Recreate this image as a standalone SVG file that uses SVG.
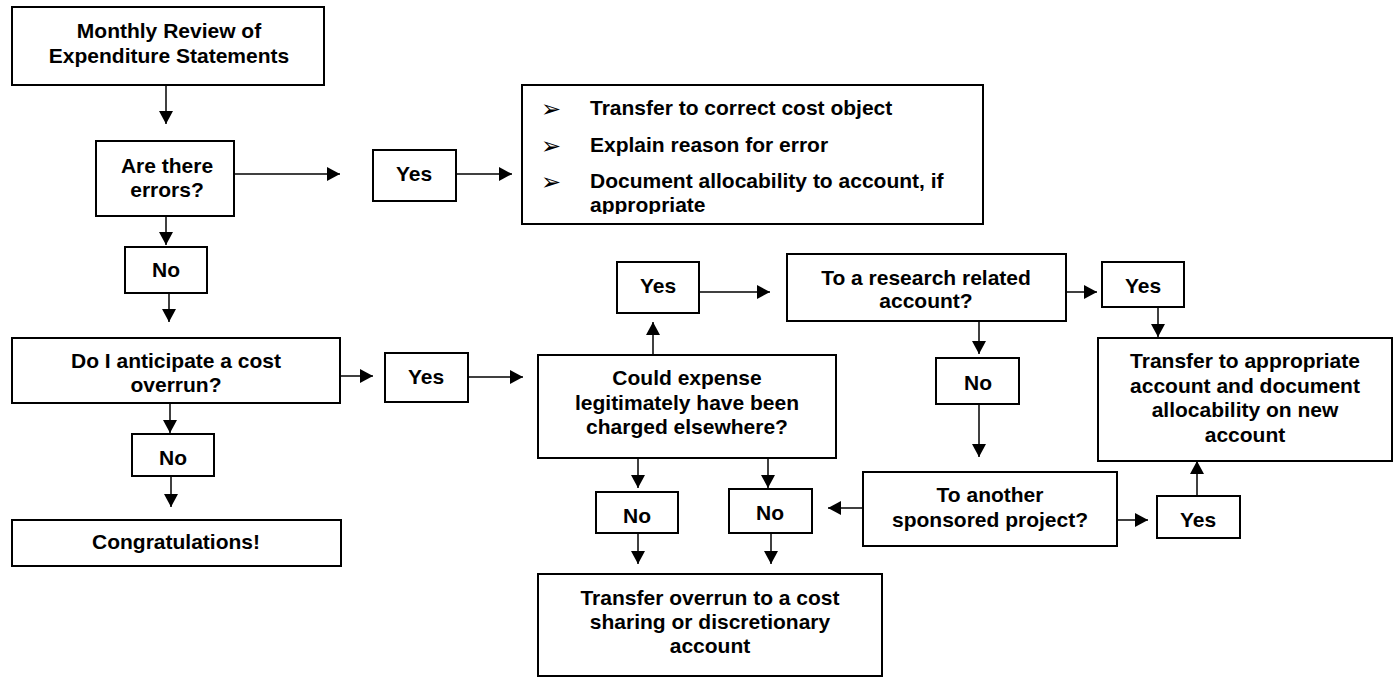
<svg xmlns="http://www.w3.org/2000/svg" width="1395" height="677" viewBox="0 0 1395 677">
<style>
  .box{fill:#fff;stroke:#000;stroke-width:2}
  .t{font-family:"Liberation Sans",Arial,sans-serif;font-weight:bold;font-size:21px;fill:#000;text-anchor:middle}
  .tl{font-family:"Liberation Sans",Arial,sans-serif;font-weight:bold;font-size:21px;fill:#000}
  .bul{font-family:"DejaVu Sans",sans-serif;font-size:24px;fill:#000}
  .c{fill:none;stroke:#000;stroke-width:1.5;marker-end:url(#ah)}
</style>
<defs>
  <marker id="ah" markerUnits="userSpaceOnUse" markerWidth="13" markerHeight="14" refX="13" refY="7" orient="auto">
    <path d="M0,0 L13,7 L0,14 z" fill="#000"/>
  </marker>
  <clipPath id="bclip"><rect x="522" y="85" width="461" height="129"/></clipPath>
</defs>
<rect width="1395" height="677" fill="#fff"/>
<g id="connectors">
  <line class="c" x1="166" y1="85" x2="166" y2="124"/>
  <line class="c" x1="234" y1="174" x2="340" y2="174"/>
  <line class="c" x1="456" y1="174" x2="512" y2="174"/>
  <line class="c" x1="166" y1="216" x2="166" y2="245"/>
  <line class="c" x1="169" y1="293" x2="169" y2="322"/>
  <line class="c" x1="340" y1="376" x2="373" y2="376"/>
  <line class="c" x1="468" y1="377" x2="523" y2="377"/>
  <line class="c" x1="170" y1="403" x2="170" y2="433"/>
  <line class="c" x1="171" y1="476" x2="171" y2="507"/>
  <line class="c" x1="653" y1="355" x2="653" y2="322"/>
  <line class="c" x1="699" y1="292" x2="770" y2="292"/>
  <line class="c" x1="1066" y1="292" x2="1097" y2="292"/>
  <line class="c" x1="1158" y1="307" x2="1158" y2="337"/>
  <line class="c" x1="979" y1="321" x2="979" y2="354"/>
  <line class="c" x1="979" y1="404" x2="979" y2="457"/>
  <line class="c" x1="1117" y1="520" x2="1148" y2="520"/>
  <line class="c" x1="1197" y1="496" x2="1197" y2="461"/>
  <line class="c" x1="863" y1="508" x2="828" y2="508"/>
  <line class="c" x1="638" y1="458" x2="638" y2="488"/>
  <line class="c" x1="768" y1="458" x2="768" y2="488"/>
  <line class="c" x1="638" y1="533" x2="638" y2="564"/>
  <line class="c" x1="771" y1="533" x2="771" y2="564"/>
</g>
<g id="monthly">
  <rect class="box" x="12" y="7" width="312" height="78"/>
  <text class="t" x="169" y="38">Monthly Review of</text>
  <text class="t" x="169" y="63">Expenditure Statements</text>
</g>
<g id="errors">
  <rect class="box" x="96" y="141" width="138" height="75"/>
  <text class="t" x="167" y="173">Are there</text>
  <text class="t" x="167" y="197">errors?</text>
</g>
<g id="yes1">
  <rect class="box" x="373" y="150" width="83" height="51"/>
  <text class="t" x="414" y="181">Yes</text>
</g>
<g id="correct">
  <rect class="box" x="522" y="85" width="461" height="139"/>
  <g clip-path="url(#bclip)">
    <text class="bul" x="541" y="117">➢</text>
    <text class="bul" x="541" y="154">➢</text>
    <text class="bul" x="541" y="190">➢</text>
    <text class="tl" x="590" y="115">Transfer to correct cost object</text>
    <text class="tl" x="590" y="152">Explain reason for error</text>
    <text class="tl" x="590" y="188">Document allocability to account, if</text>
    <text class="tl" x="590" y="212">appropriate</text>
  </g>
</g>
<g id="no1">
  <rect class="box" x="125" y="247" width="82" height="46"/>
  <text class="t" x="166" y="277">No</text>
</g>
<g id="overrun-q">
  <rect class="box" x="12" y="338" width="328" height="65"/>
  <text class="t" x="176" y="368">Do I anticipate a cost</text>
  <text class="t" x="176" y="392">overrun?</text>
</g>
<g id="yes2">
  <rect class="box" x="385" y="353" width="83" height="49"/>
  <text class="t" x="426" y="384">Yes</text>
</g>
<g id="no2">
  <rect class="box" x="132" y="434" width="82" height="42"/>
  <text class="t" x="173" y="465">No</text>
</g>
<g id="congrats">
  <rect class="box" x="12" y="520" width="329" height="46"/>
  <text class="t" x="176" y="549">Congratulations!</text>
</g>
<g id="could">
  <rect class="box" x="538" y="355" width="298" height="103"/>
  <text class="t" x="687" y="385">Could expense</text>
  <text class="t" x="687" y="410">legitimately have been</text>
  <text class="t" x="687" y="434">charged elsewhere?</text>
</g>
<g id="yes3">
  <rect class="box" x="617" y="262" width="82" height="51"/>
  <text class="t" x="658" y="293">Yes</text>
</g>
<g id="research">
  <rect class="box" x="787" y="254" width="279" height="67"/>
  <text class="t" x="926" y="285">To a research related</text>
  <text class="t" x="926" y="308">account?</text>
</g>
<g id="yes4">
  <rect class="box" x="1102" y="262" width="82" height="45"/>
  <text class="t" x="1143" y="293">Yes</text>
</g>
<g id="transfer-appropriate">
  <rect class="box" x="1098" y="338" width="294" height="123"/>
  <text class="t" x="1245" y="368">Transfer to appropriate</text>
  <text class="t" x="1245" y="393">account and document</text>
  <text class="t" x="1245" y="417">allocability on new</text>
  <text class="t" x="1245" y="442">account</text>
</g>
<g id="no3">
  <rect class="box" x="936" y="358" width="83" height="46"/>
  <text class="t" x="978" y="390">No</text>
</g>
<g id="sponsored">
  <rect class="box" x="863" y="472" width="254" height="74"/>
  <text class="t" x="990" y="502">To another</text>
  <text class="t" x="990" y="527">sponsored project?</text>
</g>
<g id="yes5">
  <rect class="box" x="1157" y="496" width="83" height="42"/>
  <text class="t" x="1198" y="527">Yes</text>
</g>
<g id="no-left">
  <rect class="box" x="596" y="492" width="82" height="41"/>
  <text class="t" x="637" y="523">No</text>
</g>
<g id="no-right">
  <rect class="box" x="729" y="489" width="83" height="44"/>
  <text class="t" x="770" y="520">No</text>
</g>
<g id="transfer-overrun">
  <rect class="box" x="538" y="574" width="344" height="102"/>
  <text class="t" x="710" y="605">Transfer overrun to a cost</text>
  <text class="t" x="710" y="629">sharing or discretionary</text>
  <text class="t" x="710" y="653">account</text>
</g>
</svg>
